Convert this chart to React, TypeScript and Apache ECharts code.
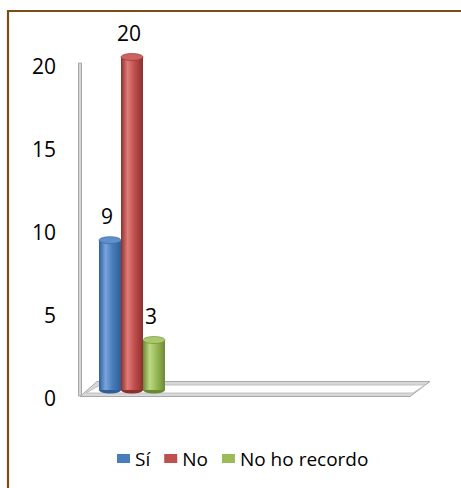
import React, { useEffect, useRef } from "react";
import * as echarts from "echarts";

// Survey answers and their counts
const categories: string[] = ["Sí", "No", "No ho recordo"];
const counts: number[] = [9, 20, 3];

// Value axis ticks
const yMin = 0;
const yMax = 20;
const yStep = 5;

// Cylinder shading per answer: [edge, highlight, body, top cap]
const palettes: string[][] = [
  ["#2f5e98", "#79a5de", "#4a7ebb", "#5f8fcc"],
  ["#8c302d", "#e07c79", "#c0504d", "#cc6360"],
  ["#6c8835", "#bdd885", "#9bbb59", "#aac86c"],
];

const FONT = "'Open Sans', 'Liberation Sans', sans-serif";

function cylinder(pal: string[]) {
  return (params: any, api: any) => {
    const idx = api.value(0);
    const val = api.value(1);
    const top = api.coord([idx, val]);
    const base = api.coord([idx, 0]);
    const w = api.size([1, 0])[0];
    const cx = top[0];
    const ry = 3.5;
    const grad = new echarts.graphic.LinearGradient(0, 0, 1, 0, [
      { offset: 0, color: pal[0] },
      { offset: 0.3, color: pal[1] },
      { offset: 0.6, color: pal[2] },
      { offset: 1, color: pal[0] },
    ]);
    return {
      type: "group",
      children: [
        {
          type: "ellipse",
          shape: { cx, cy: base[1], rx: w / 2, ry },
          style: { fill: pal[0] },
        },
        {
          type: "rect",
          shape: { x: cx - w / 2, y: top[1], width: w, height: base[1] - top[1] },
          style: { fill: grad },
        },
        {
          type: "ellipse",
          shape: { cx, cy: top[1], rx: w / 2, ry },
          style: { fill: pal[3], stroke: pal[0], lineWidth: 0.6 },
        },
        {
          type: "text",
          x: cx - 3,
          y: top[1] - 24,
          style: {
            text: String(val),
            fontSize: 21,
            fontFamily: FONT,
            fill: "#000",
            align: "center",
            verticalAlign: "middle",
          },
        },
      ],
    };
  };
}

export default function App() {
  const ref = useRef<HTMLDivElement>(null);

  useEffect(() => {
    if (!ref.current) return;
    const chart = echarts.init(ref.current, undefined, { renderer: "svg" });

    const series = categories.map((name, i) => ({
      type: "custom",
      name,
      xAxisIndex: 0,
      yAxisIndex: 0,
      renderItem: cylinder(palettes[i]),
      itemStyle: { color: palettes[i][2] },
      data: [[i, counts[i]]],
      z: 5,
    }));

    chart.setOption({
      animation: false,
      backgroundColor: "#fff",
      textStyle: { fontFamily: FONT },
      grid: [
        // plot area holding the cylinders
        { left: 99, top: 57, width: 66, height: 333 },
        // value scale drawn along the front edge
        { left: 80, top: 66, width: 330, height: 332 },
      ],
      xAxis: [
        { type: "category", gridIndex: 0, data: categories, show: false },
        { type: "value", gridIndex: 1, show: false },
      ],
      yAxis: [
        { type: "value", gridIndex: 0, min: yMin, max: yMax, show: false },
        {
          type: "value",
          gridIndex: 1,
          min: yMin,
          max: yMax,
          interval: yStep,
          axisLine: { show: false },
          axisTick: { show: false },
          splitLine: { show: false },
          axisLabel: { margin: 24, fontSize: 21, color: "#000", fontFamily: FONT },
        },
      ],
      legend: {
        data: categories,
        left: 112,
        top: 444,
        icon: "rect",
        itemWidth: 13,
        itemHeight: 9,
        itemGap: 14,
        textStyle: { fontSize: 19, color: "#000", fontFamily: FONT },
      },
      graphic: [
        // frame
        {
          type: "polyline",
          shape: { points: [[8, 488], [8, 11], [461, 11]] },
          style: { stroke: "#7c4d14", lineWidth: 2.2, fill: "none" },
          z: 10,
        },
        // side wall
        {
          type: "rect",
          shape: { x: 78.5, y: 63, width: 3, height: 333 },
          style: { fill: "#d4d4d4", stroke: "#a8a8a8", lineWidth: 1 },
          z: 1,
        },
        // floor slab
        {
          type: "polygon",
          shape: { points: [[80, 396.5], [97, 381.5], [430, 381.5], [410, 396.5]] },
          style: { fill: "#d8d8d8", stroke: "#a8a8a8", lineWidth: 1 },
          z: 1,
        },
        {
          type: "polygon",
          shape: { points: [[86, 393], [100, 385], [425, 385], [413, 393]] },
          style: { fill: "#ffffff", stroke: "#c0c0c0", lineWidth: 1 },
          z: 1,
        },
      ],
      series,
    });

    return () => chart.dispose();
  }, []);

  return (
    <div
      ref={ref}
      style={{ position: "fixed", left: 0, top: 0, width: 461, height: 488 }}
    />
  );
}
